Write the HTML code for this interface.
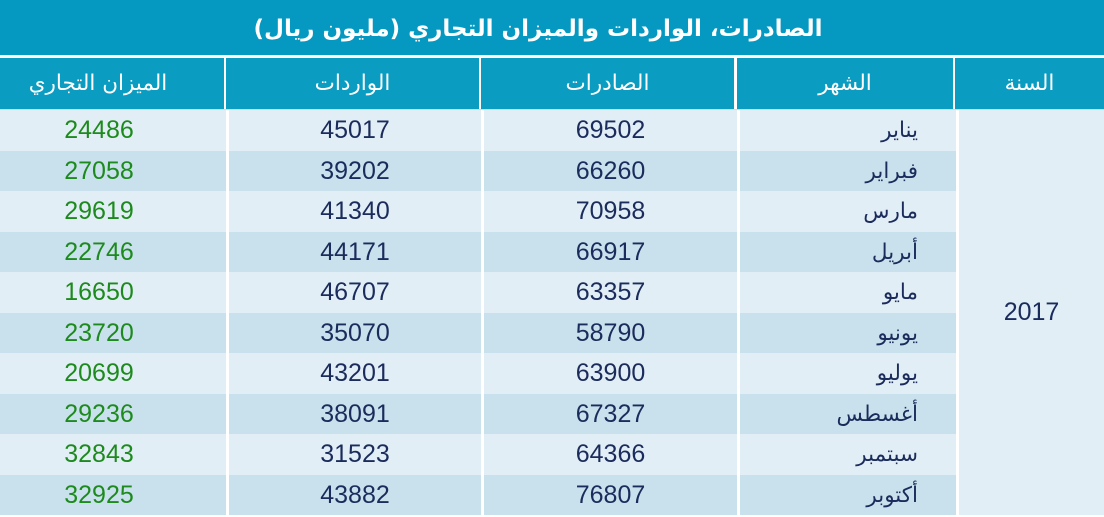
<!DOCTYPE html>
<html><head><meta charset="utf-8">
<style>
html,body{margin:0;padding:0;}
body{width:1104px;height:515px;position:relative;overflow:hidden;background:#fff;font-family:"Liberation Sans","DejaVu Sans",sans-serif;}
.a{position:absolute;box-sizing:border-box;}
.title{left:-28px;top:0;width:1132px;height:55px;color:#fff;font-weight:bold;font-size:23px;line-height:59px;text-align:center;direction:rtl;font-family:"DejaVu Sans",sans-serif;}
.tbg{left:0;top:0;width:1104px;height:55px;background:#0599c1;}
.hd{top:58px;height:51px;background:#0a9cc1;color:#fff;font-size:21.5px;line-height:51px;text-align:center;direction:rtl;font-family:"DejaVu Sans",sans-serif;}
.sep{top:109px;left:0;width:1104px;height:1px;background:#bfe2ee;}
.c{height:40.5px;line-height:40.5px;text-align:center;color:#1b2c5c;font-size:25px;}
.g{color:#1d8a1d;}
.m{text-align:right;padding-right:38px;direction:rtl;font-size:21.5px;line-height:42px;font-family:"DejaVu Sans",sans-serif;}
.L{background:#e2eef5;}
.D{background:#c9e1ec;}
</style></head><body>
<div class="a tbg"></div>
<div class="a title">الصادرات، الواردات والميزان التجاري (مليون ريال)</div>

<div class="a hd" style="left:-28px;width:252px;">الميزان التجاري</div>
<div class="a hd" style="left:226px;width:253px;">الواردات</div>
<div class="a hd" style="left:481px;width:253px;">الصادرات</div>
<div class="a hd" style="left:737px;width:216px;">الشهر</div>
<div class="a hd" style="left:955px;width:149px;">السنة</div>
<div class="a sep"></div>

<div class="a L" style="left:959px;top:110px;width:145px;height:405px;"></div>
<div class="a c" style="left:959px;top:292px;width:145px;">2017</div>

<div id="rows"></div>
<script>
var d=[["يناير","69502","45017","24486"],["فبراير","66260","39202","27058"],["مارس","70958","41340","29619"],["أبريل","66917","44171","22746"],["مايو","63357","46707","16650"],["يونيو","58790","35070","23720"],["يوليو","63900","43201","20699"],["أغسطس","67327","38091","29236"],["سبتمبر","64366","31523","32843"],["أكتوبر","76807","43882","32925"]];
var h="";
for(var i=0;i<d.length;i++){
 var t=110+i*40.5, k=(i%2==0)?"L":"D";
 h+='<div class="a c g '+k+'" style="left:-28px;width:254px;top:'+t+'px;">'+d[i][3]+'</div>';
 h+='<div class="a c '+k+'" style="left:229px;width:252px;top:'+t+'px;">'+d[i][2]+'</div>';
 h+='<div class="a c '+k+'" style="left:484px;width:253px;top:'+t+'px;">'+d[i][1]+'</div>';
 h+='<div class="a c m '+k+'" style="left:740px;width:216px;top:'+t+'px;height:40.5px;">'+d[i][0]+'</div>';
}
document.getElementById("rows").innerHTML=h;
</script>
</body></html>
